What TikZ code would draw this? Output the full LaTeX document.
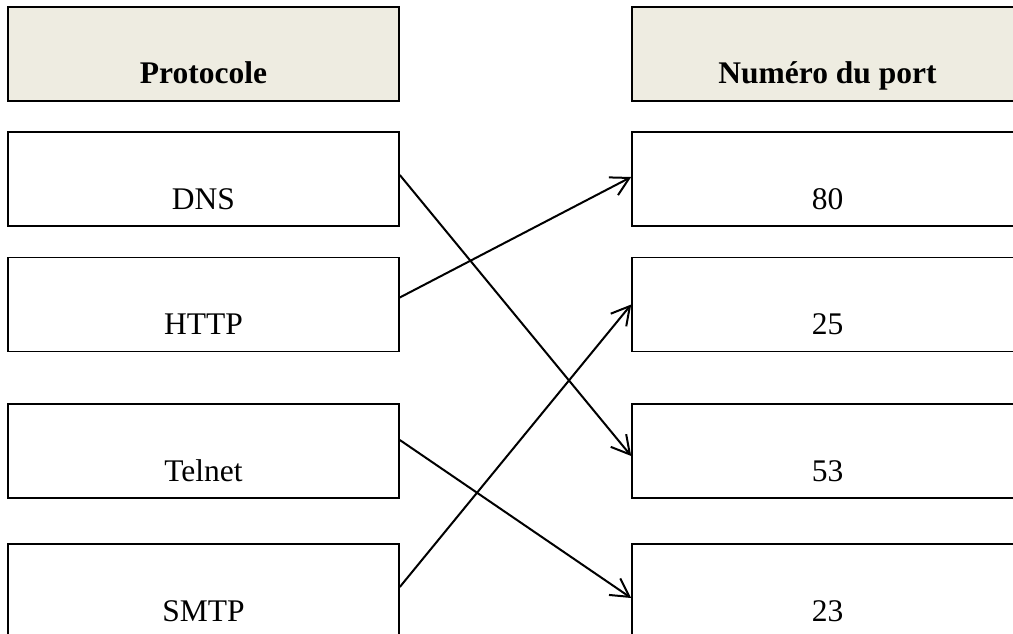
\documentclass[tikz,border=0pt]{standalone}
\usepackage{fontspec}
\setmainfont{Liberation Serif}
\usetikzlibrary{arrows.meta}
\definecolor{headtan}{RGB}{238,236,225}

\begin{document}
\begin{tikzpicture}[x=1pt, y=-1pt,
    every node/.style={rectangle, draw, line width=1.6pt, minimum width=391pt, minimum height=94pt,
        inner xsep=0pt, inner ysep=0pt, text height=77pt, text depth=17pt,
        font=\fontsize{31.5}{38}\selectfont},
    head/.style={fill=headtan, font=\fontsize{31.5}{38}\selectfont\bfseries},
    arrow/.style={-{Straight Barb[length=18pt, width=20pt]}, line width=2pt}
]
\useasboundingbox (0,0) rectangle (1013,634);
\clip (0,0) rectangle (1013,634);
%% headers
\node[head] (hP) at (203.5, 54)  {Protocole};
\node[head] (hN) at (827.5, 54)  {Numéro du port};
%% protocols
\node (P1) at (203.5, 179)   {DNS};
\node (P2) at (203.5, 304.5) {HTTP};
\node (P3) at (203.5, 451)   {Telnet};
\node (P4) at (203.5, 591)   {SMTP};
%% ports
\node (N1) at (827.5, 179)   {80};
\node (N2) at (827.5, 304.5) {25};
\node (N3) at (827.5, 451)   {53};
\node (N4) at (827.5, 591)   {23};
%% links
\draw[arrow] ([yshift=4pt]P1.east)  -- ([yshift=-5pt]N3.west);
\draw[arrow] ([yshift=7pt]P2.east)  -- ([yshift=2pt]N1.west);
\draw[arrow] ([yshift=11pt]P3.east) -- ([yshift=-7pt]N4.west);
\draw[arrow] ([yshift=4pt]P4.east)  -- (N2.west);
\end{tikzpicture}
\end{document}
